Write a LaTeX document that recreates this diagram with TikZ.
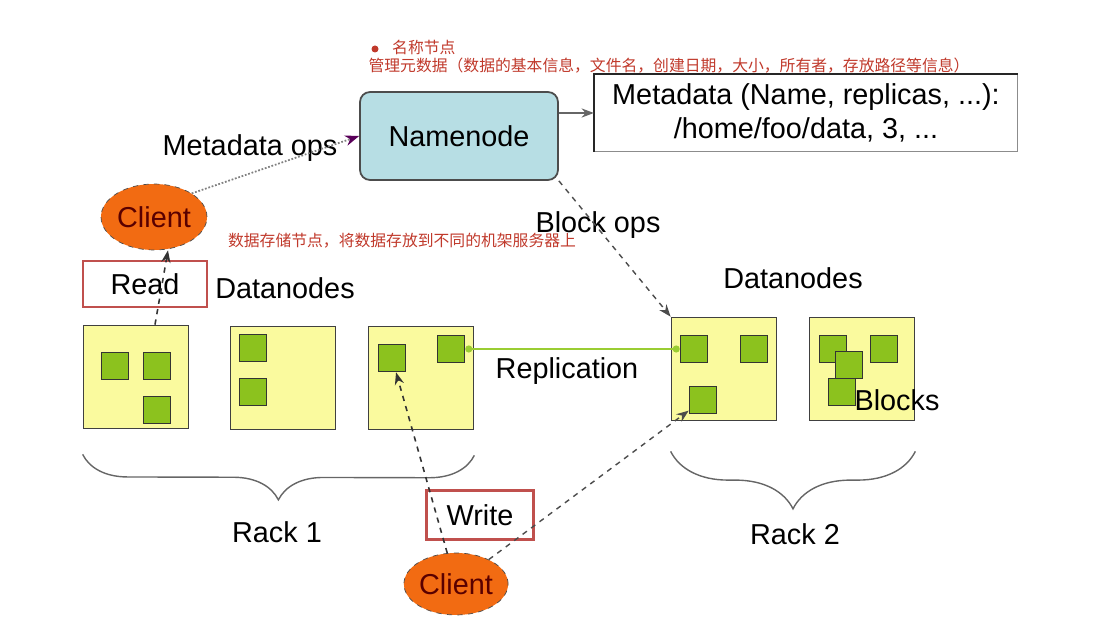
\documentclass[tikz,border=0pt]{standalone}
\usepackage{fontspec}
\setmainfont{Liberation Sans}
\newfontfamily\cjk{Noto Sans CJK SC}
\usetikzlibrary{shapes.geometric,positioning,arrows.meta,decorations.pathreplacing}
\definecolor{nnblue}{HTML}{B7DEE4}
\definecolor{clorange}{HTML}{F26B12}
\definecolor{dnyellow}{HTML}{FAFA9E}
\definecolor{blkgreen}{HTML}{8CC21E}
\definecolor{replgreen}{HTML}{9ACD32}
\definecolor{boxred}{HTML}{C0504D}
\definecolor{notered}{HTML}{C0392B}

\begin{document}
\begin{tikzpicture}[x=0.02cm,y=-0.02cm,>={Stealth[length=7pt]},
   font=\fontsize{16.4}{19}\selectfont,
   dnode/.style={draw=black!75,line width=1pt,fill=dnyellow,minimum width=2.1cm,minimum height=2.06cm},
   blk/.style={draw=black!80,line width=0.9pt,fill=blkgreen,minimum size=0.54cm,inner sep=0pt},
   client/.style={ellipse,draw=black!70,dashed,fill=clorange,text=red!35!black,inner sep=0pt},
   redbox/.style={draw=boxred,line width=1.5pt},
   note/.style={text=notered,font=\cjk\fontsize{9}{11}\selectfont},
   rack/.style={decorate,decoration={brace,mirror,amplitude=#1},draw=black!60,line width=0.8pt}]
   \useasboundingbox (0,0) rectangle (1093,631);

   % namenode and its metadata
   \node[draw=black!70,line width=1pt,fill=nnblue,rounded corners=0.2cm,
         minimum width=3.96cm,minimum height=1.76cm] (nn) at (459,136) {Namenode};
   \node[draw=black!45,line width=0.8pt,align=center,
         minimum width=8.46cm,minimum height=1.54cm] (meta) at (806,113)
         {Metadata (Name, replicas, ...):\\/home/foo/data, 3, ...};
   \draw[line width=1.2pt,black!85] (meta.south west) -- (meta.north west) -- (meta.north east);

   % clients
   \node[client,minimum width=2.12cm,minimum height=1.32cm] (c1) at (154,217) {Client};
   \node[client,minimum width=2.08cm,minimum height=1.24cm] (c2) at (456,584) {Client};

   % datanodes
   \node[dnode] (dn1) at (136,377) {};
   \node[dnode] (dn2) at (283,378) {};
   \node[dnode] (dn3) at (421,378) {};
   \node[dnode] (dn4) at (724,369) {};
   \node[dnode] (dn5) at (862,369) {};

   % blocks
   \node[blk] (b11) at (115,366) {};
   \node[blk] (b12) at (157,366) {};
   \node[blk] (b13) at (157,410) {};
   \node[blk] (b21) at (253,348) {};
   \node[blk] (b22) at (253,392) {};
   \node[blk] (b31) at (392,358) {};
   \node[blk] (b32) at (451,349) {};
   \node[blk] (b41) at (694,349) {};
   \node[blk] (b42) at (754,349) {};
   \node[blk] (b43) at (703,400) {};
   \node[blk] (b51) at (833,349) {};
   \node[blk] (b52) at (884,349) {};
   \node[blk] (b53) at (849,365) {};
   \node[blk] (b54) at (842,392) {};

   % labels
   \node (dl1) at (285,288) {Datanodes};
   \node (dl2) at (793,278) {Datanodes};
   \node (mops) at (250,148) {Metadata ops};
   \node (bops) at (598,225) {Block ops};
   \node (repl) at (567,371) {Replication};
   \node (blks) at (897,400) {Blocks};
   \node[redbox,minimum width=2.48cm,minimum height=0.92cm] (rd) at (145,284) {Read};
   \node[redbox,minimum width=2.14cm,minimum height=0.98cm] (wr) at (480,515) {Write};

   % racks
   \draw[rack=0.9cm] ([yshift=-0.5cm]dn1.south west) -- ([yshift=-0.5cm]dn3.south east);
   \draw[rack=1.15cm] ([yshift=-0.6cm]dn4.south west) -- ([yshift=-0.6cm]dn5.south east);
   \node (r1) at (277,532) {Rack 1};
   \node (r2) at (795,534) {Rack 2};

   % notes
   \fill[notered] (375,49) circle (0.07cm);
   \node[note,anchor=west] (nt1) at (386,47) {名称节点};
   \node[note] (nt2) at (669,66) {管理元数据（数据的基本信息，文件名，创建日期，大小，所有者，存放路径等信息）};
   \node[note] (nt3) at (402,241) {数据存储节点，将数据存放到不同的机架服务器上};

   \path[->]
    (nn.east |- meta.west) edge [black!60,line width=0.8pt] (meta.west)
    (c1.north east) edge [densely dotted,gray,line width=1pt,
                         -{Stealth[length=8pt,color=violet!70!black]}] (nn.west)
    (nn.south east) edge [dashed,black!70,line width=0.8pt] (dn4.north west)
    ([xshift=0.38cm]dn1.north) edge [dashed,black!80,line width=0.9pt] ([xshift=0.28cm]c1.south)
    (c2) edge [dashed,black!80,line width=0.9pt] (b31)
         edge [dashed,black!70,line width=0.8pt] (b43);
   \path (b32.east) edge [replgreen,line width=1.2pt,
                          {Circle[length=4pt]}-{Circle[length=4pt]}] (b41.west);
\end{tikzpicture}
\end{document}
